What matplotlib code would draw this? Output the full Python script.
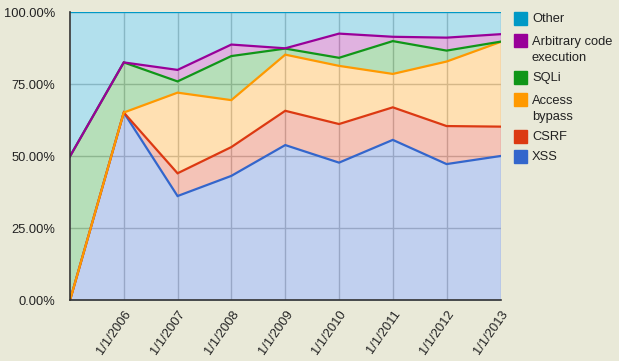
import numpy as np
import pandas as pd
import matplotlib
matplotlib.use('Agg')
import matplotlib.pyplot as plt
from matplotlib.patches import Rectangle

plt.rcParams['font.family'] = ['Liberation Sans', 'DejaVu Sans']
fontsize = 9.3

# share of each category per year (percent, stacked bottom to top)
years = ['1/1/2005', '1/1/2006', '1/1/2007', '1/1/2008', '1/1/2009',
         '1/1/2010', '1/1/2011', '1/1/2012', '1/1/2013']
xss = [0, 65.2, 36.2, 43.2, 53.9, 47.8, 55.7, 47.3, 50.1]
csrf = [0, 0, 7.9, 10.0, 11.9, 13.4, 11.3, 13.2, 10.2]
access = [0, 0, 28.0, 16.3, 19.5, 20.2, 11.6, 22.4, 29.4]
sqli = [50.0, 17.4, 3.9, 15.3, 2.1, 2.8, 11.4, 3.8, 0.1]
arbitrary = [0, 0, 4.0, 4.0, 0.1, 8.4, 1.5, 4.5, 2.6]
other = [50.0, 17.4, 20.0, 11.2, 12.5, 7.4, 8.5, 8.8, 7.6]

names = ['XSS', 'CSRF', 'Access\nbypass', 'SQLi', 'Arbitrary code\nexecution', 'Other']
colors = ['#3366cc', '#dc3912', '#ff9900', '#109618', '#990099', '#0099c6']
series = [xss, csrf, access, sqli, arbitrary, other]

dates = pd.to_datetime(years, format='%m/%d/%Y')
bg = '#e9e9d8'

fig = plt.figure(figsize=(6.19, 3.61), dpi=100, facecolor=bg)
ax = fig.add_axes([70 / 619, 1 - 300.3 / 361, 430.5 / 619, 288 / 361])
ax.set_facecolor('white')

vals = np.array(series, dtype=float)
# normalise so the stack ends at 100%
vals = vals / vals.sum(axis=0) * 100
cum = np.cumsum(vals, axis=0)
bottom = np.zeros(len(dates))
for i in range(len(series)):
    ax.fill_between(dates, bottom, cum[i], color=colors[i], alpha=0.3, lw=0, zorder=2)
    bottom = cum[i]
for i in range(len(series)):
    ax.plot(dates, cum[i], color=colors[i], lw=1.6, zorder=3 + i, solid_joinstyle='miter')

tick_dates = dates[1:]
ax.set_xticks(tick_dates)
ax.set_xticklabels(years[1:], rotation=55, ha='right', va='top',
                   rotation_mode='anchor', fontsize=fontsize, color='#222222')
ax.set_xlim(dates[0], dates[-1])
ax.set_ylim(0, 100)
ax.set_yticks([0, 25, 50, 75, 100])
ax.set_yticklabels(['%.2f%%' % v for v in [0, 25, 50, 75, 100]],
                   fontsize=fontsize, color='#222222')
ax.tick_params(length=0)
ax.tick_params(axis='y', pad=10.8)
ax.tick_params(axis='x', pad=5.5)
ax.grid(True, color='#c4c4c4', lw=1, zorder=1)
ax.set_axisbelow(True)
for s in ['top', 'right']:
    ax.spines[s].set_visible(False)
for s in ['left', 'bottom']:
    ax.spines[s].set_color('#333333')
    ax.spines[s].set_linewidth(1.2)
    ax.spines[s].set_zorder(10)

# legend on the right, top entry first
legend_rows = [(5, 18), (4, 40), (3, 77), (2, 99), (1, 136), (0, 156)]
for idx, ytop in legend_rows:
    fig.patches.append(Rectangle((514 / 619, 1 - (ytop + 6.5) / 361), 13 / 619, 13 / 361,
                                 transform=fig.transFigure, color=colors[idx]))
    fig.text(532 / 619, 1 - (ytop - 4.5) / 361, names[idx], fontsize=fontsize,
             va='top', ha='left', color='#222222', linespacing=1.48)

fig.savefig('out.png', dpi=100, facecolor=bg)
